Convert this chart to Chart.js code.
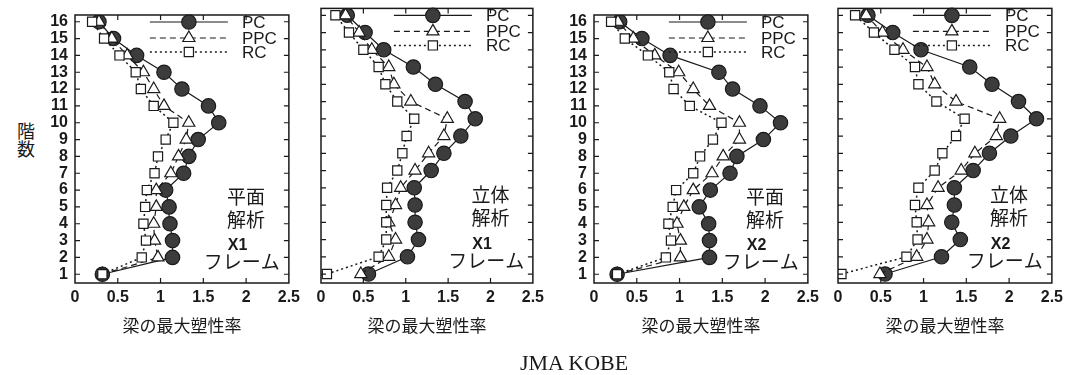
<!DOCTYPE html>
<html>
<head>
<meta charset="utf-8">
<script src="https://cdn.jsdelivr.net/npm/chart.js@4.4.1/dist/chart.umd.min.js"></script>
<style>
  body { margin: 0; background: #fff; width: 1073px; height: 375px; position: relative; overflow: hidden; }
  canvas { position: absolute; top: 0; }
  #ytitle { position: absolute; left: 13px; top: 122px; font: 18px "Noto Sans CJK JP"; writing-mode: vertical-rl; color: #1a1a1a; }
  #caption { position: absolute; left: 520px; top: 350px; font: 22px "Liberation Serif"; color: #1a1a1a; white-space: nowrap; }
</style>
</head>
<body>
<div id="ytitle">階数</div>
<canvas id="c1"></canvas>
<canvas id="c2"></canvas>
<canvas id="c3"></canvas>
<canvas id="c4"></canvas>
<div id="caption">JMA KOBE</div>
<script>
  // floors 1..16, values read bottom to top
  const floors = [1, 2, 3, 4, 5, 6, 7, 8, 9, 10, 11, 12, 13, 14, 15, 16];
  const xTicks = [0, 0.5, 1, 1.5, 2, 2.5];
  const seriesNames = ["PC", "PPC", "RC"];

  const pc1 = [0.32, 1.14, 1.14, 1.11, 1.10, 1.06, 1.27, 1.33, 1.44, 1.68, 1.56, 1.25, 1.04, 0.72, 0.45, 0.28];
  const ppc1 = [0.32, 0.97, 0.93, 0.92, 0.95, 0.95, 1.12, 1.21, 1.30, 1.33, 1.04, 0.92, 0.80, 0.61, 0.43, 0.28];
  const rc1 = [0.32, 0.78, 0.83, 0.80, 0.82, 0.84, 0.93, 0.97, 1.06, 1.15, 0.92, 0.77, 0.71, 0.52, 0.34, 0.20];

  const pc2 = [0.56, 1.02, 1.15, 1.11, 1.11, 1.10, 1.30, 1.45, 1.65, 1.82, 1.70, 1.35, 1.09, 0.74, 0.52, 0.31];
  const ppc2 = [0.47, 0.80, 0.88, 0.80, 0.88, 0.94, 1.11, 1.27, 1.45, 1.49, 1.06, 0.86, 0.80, 0.60, 0.45, 0.29];
  const rc2 = [0.07, 0.68, 0.77, 0.77, 0.77, 0.78, 0.90, 0.96, 1.01, 1.10, 0.90, 0.76, 0.68, 0.50, 0.33, 0.17];

  const pc3 = [0.27, 1.35, 1.35, 1.34, 1.23, 1.36, 1.59, 1.67, 1.98, 2.18, 1.94, 1.62, 1.46, 0.89, 0.56, 0.30];
  const ppc3 = [0.27, 1.01, 1.01, 0.97, 1.05, 1.16, 1.38, 1.51, 1.70, 1.70, 1.35, 1.16, 0.99, 0.71, 0.46, 0.28];
  const rc3 = [0.27, 0.84, 0.90, 0.87, 0.92, 0.96, 1.16, 1.24, 1.39, 1.49, 1.12, 0.93, 0.88, 0.63, 0.36, 0.20];

  const pc4 = [0.55, 1.21, 1.43, 1.33, 1.36, 1.36, 1.58, 1.77, 2.02, 2.32, 2.11, 1.80, 1.54, 0.97, 0.64, 0.35];
  const ppc4 = [0.49, 0.92, 1.04, 1.06, 1.04, 1.17, 1.44, 1.60, 1.85, 1.89, 1.38, 1.13, 1.04, 0.76, 0.52, 0.33];
  const rc4 = [0.04, 0.80, 0.93, 0.92, 0.90, 0.94, 1.13, 1.22, 1.38, 1.48, 1.15, 0.94, 0.90, 0.66, 0.42, 0.20];

  const notes1 = ["平面", "解析", "X1", "フレーム"];
  const notes2 = ["立体", "解析", "X1", "フレーム"];
  const notes3 = ["平面", "解析", "X2", "フレーム"];
  const notes4 = ["立体", "解析", "X2", "フレーム"];

  const INK = "#1a1a1a";
  const DOT_FILL = "#3c3c3c";
  const SANS = "'Liberation Sans', Arial, sans-serif";
  const CJK = "'Noto Sans CJK JP', sans-serif";

  const styles = [
    { pointStyle: "circle", radius: 7.2, fill: DOT_FILL, dash: [], order: 3 },
    { pointStyle: "triangle", radius: 7, fill: "#ffffff", dash: [6, 4], order: 2 },
    { pointStyle: "rect", radius: 6.5, fill: "#ffffff", dash: [2, 3], order: 1 },
  ];

  // frame, inward ticks, legend and the side notes
  const decorPlugin = {
    id: "decor",
    afterDraw(chart, args, opts) {
      const { ctx, chartArea: a } = chart;
      const x = chart.scales.x;
      const y = chart.scales.y;
      ctx.save();
      ctx.strokeStyle = INK;
      ctx.lineWidth = 1.5;
      ctx.setLineDash([]);
      ctx.strokeRect(a.left, a.top, a.right - a.left, a.bottom - a.top);

      ctx.lineWidth = 1.2;
      ctx.beginPath();
      xTicks.slice(1, -1).forEach((v) => {
        const px = x.getPixelForValue(v);
        ctx.moveTo(px, a.bottom);
        ctx.lineTo(px, a.bottom - 5);
        ctx.moveTo(px, a.top);
        ctx.lineTo(px, a.top + 5);
      });
      floors.forEach((v) => {
        const py = y.getPixelForValue(v);
        ctx.moveTo(a.left, py);
        ctx.lineTo(a.left + 5, py);
        ctx.moveTo(a.right, py);
        ctx.lineTo(a.right - 5, py);
      });
      ctx.stroke();

      // legend
      const rows = [7, 23, 37];
      seriesNames.forEach((name, i) => {
        const st = styles[i];
        const ly = a.top + rows[i];
        const x0 = a.right - 139;
        const x1 = a.right - 61;
        ctx.lineWidth = i === 2 ? 1.5 : 1.2;
        ctx.setLineDash(st.dash);
        ctx.beginPath();
        ctx.moveTo(x0, ly);
        ctx.lineTo(x1, ly);
        ctx.stroke();
        ctx.setLineDash([]);
        ctx.fillStyle = st.fill;
        ctx.lineWidth = 1.2;
        Chart.helpers.drawPoint(ctx, { pointStyle: st.pointStyle, radius: st.radius, borderWidth: 1.2, rotation: 0 }, (x0 + x1) / 2, ly);
        ctx.fillStyle = INK;
        ctx.font = "17px " + SANS;
        ctx.textAlign = "left";
        ctx.textBaseline = "middle";
        ctx.fillText(name, a.right - 47, ly + 1);
      });

      // side notes
      const noteX = [2.0, 2.0, 1.9, 1.95];
      const noteY = [5.6, 4.25, 2.7, 1.75];
      ctx.fillStyle = INK;
      ctx.textAlign = "center";
      ctx.textBaseline = "middle";
      opts.notes.forEach((t, i) => {
        ctx.font = i === 2 ? "bold 16px " + SANS : "19px " + CJK;
        ctx.fillText(t, x.getPixelForValue(noteX[i]), y.getPixelForValue(noteY[i]));
      });
      ctx.restore();
    },
  };

  function makeDataset(values, i) {
    const st = styles[i];
    return {
      label: seriesNames[i],
      data: values.map((v, k) => ({ x: v, y: floors[k] })),
      showLine: true,
      borderColor: INK,
      borderWidth: i === 2 ? 1.5 : 1.2,
      borderDash: st.dash,
      pointStyle: st.pointStyle,
      pointRadius: st.radius,
      pointBorderWidth: 1.2,
      pointBorderColor: INK,
      pointBackgroundColor: st.fill,
      order: st.order,
    };
  }

  function makePanel(id, left, plotWidth, showY, series, notes) {
    const canvas = document.getElementById(id);
    const w = 75 + plotWidth + 16;
    canvas.width = w;
    canvas.height = 345;
    canvas.style.left = left + "px";
    canvas.style.width = w + "px";
    canvas.style.height = "345px";

    return new Chart(canvas, {
      type: "scatter",
      data: { datasets: series.map((s, i) => makeDataset(s, i)) },
      plugins: [decorPlugin],
      options: {
        responsive: false,
        animation: false,
        events: [],
        devicePixelRatio: 1,
        layout: { padding: { top: 8, right: 16, left: 0, bottom: 0 } },
        plugins: {
          legend: { display: false },
          tooltip: { enabled: false },
          decor: { notes },
        },
        scales: {
          x: {
            type: "linear",
            min: 0,
            max: 2.5,
            afterBuildTicks: (s) => { s.ticks = xTicks.map((v) => ({ value: v })); },
            afterFit: (s) => { s.height = 62; },
            grid: { display: false, drawTicks: false },
            border: { display: false },
            ticks: { autoSkip: false, maxRotation: 0, padding: 5, color: INK, font: { family: SANS, size: 16, weight: "bold" }, callback: (v) => String(v) },
            title: { display: true, text: "梁の最大塑性率", color: INK, font: { family: CJK, size: 17 }, padding: { top: 0, bottom: 9 } },
          },
          y: {
            type: "linear",
            min: 0.48,
            max: 16.4,
            afterBuildTicks: (s) => { s.ticks = floors.map((v) => ({ value: v })); },
            afterFit: (s) => { s.width = 75; },
            grid: { display: false, drawTicks: false },
            border: { display: false },
            ticks: { display: showY, autoSkip: false, padding: 7, color: INK, font: { family: SANS, size: 16, weight: "bold", lineHeight: 1 } },
          },
        },
      },
    });
  }

  makePanel("c1", 0, 214, true, [pc1, ppc1, rc1], notes1);
  makePanel("c2", 246, 212, false, [pc2, ppc2, rc2], notes2);
  makePanel("c3", 519, 214, true, [pc3, ppc3, rc3], notes3);
  makePanel("c4", 763, 214, false, [pc4, ppc4, rc4], notes4);
</script>
</body>
</html>
